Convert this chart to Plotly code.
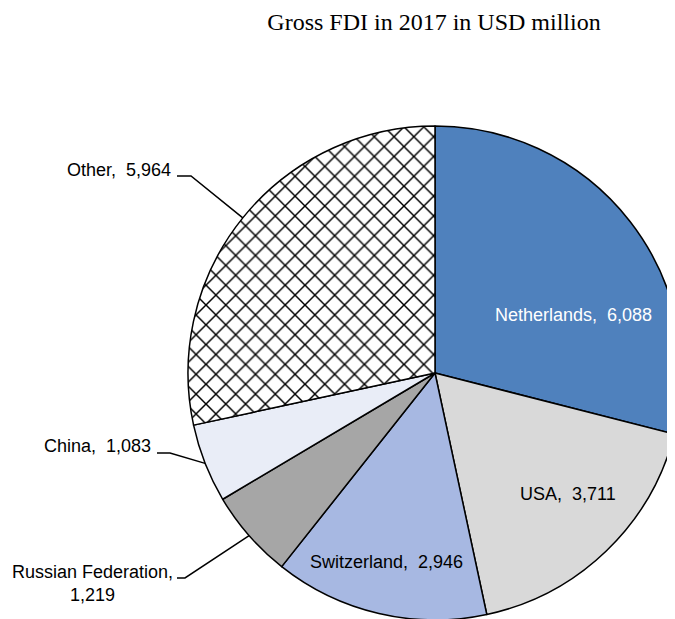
import math
import plotly.graph_objects as go

# ---- data ----
countries = ["Netherlands", "USA", "Switzerland", "Russian Federation", "China", "Other"]
fdi_values = [6088, 3711, 2946, 1219, 1083, 5964]
title_text = "Gross FDI in 2017 in USD million"

# ---- style ----
W, H = 675, 619
PAGE_OFFSET = 8  # default page margin around the plot div
slice_colors = ["#4F81BD", "#D9D9D9", "#A7B8E2", "#A6A6A6", "#E9EDF7", "#FFFFFF"]
slice_patterns = ["", "", "", "", "", "x"]
LABEL_FONT = "Liberation Sans, Arial, sans-serif"
LABEL_SIZE = 18

# pie geometry in screen pixels (domain derived from it)
PIE_CX, PIE_CY, PIE_R = 435.0, 373.0, 247.0


def px(x):
    return (x - PAGE_OFFSET) / W


def py(y):
    return 1 - (y - PAGE_OFFSET) / H


dom_x = [px(PIE_CX - PIE_R), min(1.0, px(PIE_CX + PIE_R))]
dom_y = [max(0.0, py(PIE_CY + PIE_R)), min(1.0, py(PIE_CY - PIE_R))]

fig = go.Figure(go.Pie(
    labels=countries,
    values=fdi_values,
    sort=False,
    direction="clockwise",
    rotation=0,
    textinfo="none",
    hoverinfo="label+value",
    marker=dict(
        colors=slice_colors,
        line=dict(color="black", width=1.5),
        pattern=dict(shape=slice_patterns, fgcolor="black", bgcolor="white",
                     size=14, solidity=0.2, fillmode="replace"),
    ),
    domain=dict(x=dom_x, y=dom_y),
    showlegend=False,
))

# slice mid-angles from the data (clockwise from 12 o'clock)
total = sum(fdi_values)
mid_angles = {}
cum = 0
for name, v in zip(countries, fdi_values):
    mid_angles[name] = 2 * math.pi * (cum + v / 2) / total
    cum += v


def edge_point(name):
    a = mid_angles[name]
    return PIE_CX + PIE_R * math.sin(a), PIE_CY - PIE_R * math.cos(a)


def fmt(v):
    return f"{v:,}"


vals = dict(zip(countries, fdi_values))

# inside labels: (name, centre x px, centre y px, colour)
inside_labels = [
    ("Netherlands", 573, 315, "white"),
    ("USA", 568, 494, "black"),
    ("Switzerland", 386, 562, "black"),
]
annotations = []
for name, x, y, col in inside_labels:
    annotations.append(dict(
        x=px(x), y=py(y), xref="paper", yref="paper",
        text=f"{name},  {fmt(vals[name])}", showarrow=False,
        xanchor="center", yanchor="middle",
        font=dict(family=LABEL_FONT, size=LABEL_SIZE, color=col),
    ))

# outside labels with leader lines: (name, text, text x px, text y px, xanchor, align,
#                                     line start x, elbow x, line y)
outside_labels = [
    ("Other", "Other,  " + fmt(vals["Other"]), 173, 170, "right", "right", 177, 191, 176),
    ("China", "China,  " + fmt(vals["China"]), 153, 446, "right", "right", 157, 170, 453),
    ("Russian Federation", "Russian Federation,<br>" + fmt(vals["Russian Federation"]),
     93, 583, "center", "center", 177, 185, 578),
]
shapes = []
for name, text, tx, ty, xa, al, lx0, lx1, ly in outside_labels:
    annotations.append(dict(
        x=px(tx), y=py(ty), xref="paper", yref="paper",
        text=text, showarrow=False, xanchor=xa, yanchor="middle", align=al,
        font=dict(family=LABEL_FONT, size=LABEL_SIZE, color="black"),
    ))
    ex, ey = edge_point(name)
    shapes.append(dict(
        type="path", xref="paper", yref="paper",
        path=f"M {px(lx0)},{py(ly)} L {px(lx1)},{py(ly)} L {px(ex)},{py(ey)}",
        line=dict(color="black", width=1.5),
    ))

fig.update_layout(
    width=W, height=H,
    margin=dict(l=0, r=0, t=0, b=0),
    paper_bgcolor="white",
    plot_bgcolor="white",
    title=dict(text=title_text, x=px(434), y=py(22), xref="paper", yref="paper",
               xanchor="center", yanchor="middle",
               font=dict(family="Liberation Serif, Times New Roman, serif", size=24, color="black")),
    annotations=annotations,
    shapes=shapes,
)

fig.write_html("out.html")
